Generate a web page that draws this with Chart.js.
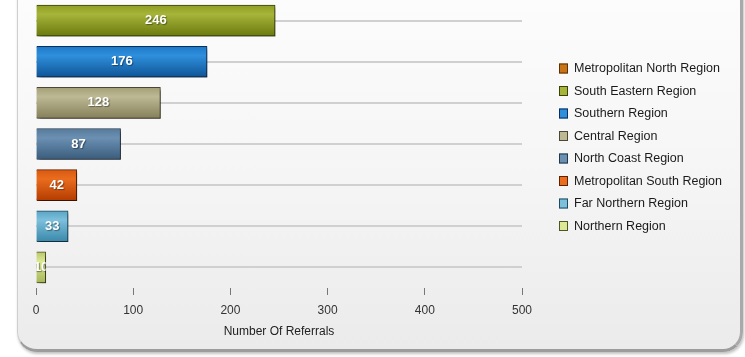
<!DOCTYPE html>
<html>
<head>
<meta charset="utf-8">
<script src="https://cdn.jsdelivr.net/npm/chart.js@4.4.1/dist/chart.umd.min.js"></script>
<style>
  html, body { margin:0; padding:0; background:#fff; overflow:hidden; }
  #wrap { position:relative; width:745px; height:357px; }
  #panel {
    position:absolute; left:17px; top:-30px; width:722px; height:378px;
    border:1px solid #cfcfcf; border-right:3px solid #a9a9a9; border-bottom:3px solid #9c9c9c;
    border-radius:0 0 20px 20px;
    background:linear-gradient(#fdfdfd 0%, #f6f6f6 50%, #ebebeb 100%);
    box-shadow:1px 2px 3px rgba(0,0,0,.25);
  }
  #c { position:absolute; left:0; top:0; }
</style>
</head>
<body>
<div id="wrap">
  <div id="panel"></div>
  <canvas id="c" width="745" height="357"></canvas>
</div>
<script>
// regions, top to bottom (first one sits above the visible part of the panel)
const regions = ['Metropolitan North Region','South Eastern Region','Southern Region','Central Region',
                 'North Coast Region','Metropolitan South Region','Far Northern Region','Northern Region'];
const referrals = [310, 246, 176, 128, 87, 42, 33, 10];
const xTicks = [0, 100, 200, 300, 400, 500];
// [top, middle, bottom, border]
const barColors = [
  ['#d88a30','#c87416','#9a5208','#5a3005'],
  ['#8f9e22','#a6b43a','#6a7a0e','#39420a'],
  ['#1c78c8','#2f8fdc','#0e5496','#0a2f5a'],
  ['#a39f78','#bdb994','#85805a','#4a4732'],
  ['#557a9c','#6b90b2','#3a5c7c','#223648'],
  ['#d85a12','#ea6c1e','#b43c00','#5e2200'],
  ['#5aa4c4','#7cc0dc','#3a88aa','#1e4a5e'],
  ['#b8c868','#dce894','#a6b658','#4e5628']
];

const FONT = '"Liberation Sans", Arial, sans-serif';

const barStyle = {
  id:'barStyle',
  beforeDatasetsDraw(chart){
    const {ctx} = chart;
    chart.getDatasetMeta(0).data.forEach((el, i) => {
      const h = el.height, top = el.y - h/2;
      const g = ctx.createLinearGradient(0, top, 0, top + h);
      g.addColorStop(0, barColors[i][0]);
      g.addColorStop(0.3, barColors[i][1]);
      g.addColorStop(1, barColors[i][2]);
      el.options.backgroundColor = g;
      el.options.borderColor = barColors[i][3];
    });
    ctx.save();
    ctx.shadowColor = 'rgba(0,0,0,0.45)';
    ctx.shadowOffsetX = 3; ctx.shadowOffsetY = 3; ctx.shadowBlur = 3;
  },
  afterDatasetsDraw(chart){
    const {ctx} = chart;
    ctx.restore();
    chart.getDatasetMeta(0).data.forEach((el, i) => {
      const h = el.height, left = Math.min(el.base, el.x), w = Math.abs(el.x - el.base);
      ctx.save();
      ctx.beginPath(); ctx.rect(left, el.y - h/2, w, h); ctx.clip();
      ctx.font = 'bold 13px ' + FONT;
      ctx.fillStyle = '#fff';
      ctx.textAlign = 'center'; ctx.textBaseline = 'middle';
      ctx.shadowColor = 'rgba(0,0,0,0.4)'; ctx.shadowOffsetX = 1; ctx.shadowOffsetY = 1; ctx.shadowBlur = 1;
      ctx.fillText(String(referrals[i]), left + w/2, el.y);
      ctx.restore();
    });
  }
};

const sideLegend = {
  id:'sideLegend',
  afterDraw(chart){
    const {ctx} = chart;
    ctx.save();
    regions.forEach((r, i) => {
      const y = 68.5 + i * 22.5;
      ctx.fillStyle = barColors[i][1];
      ctx.fillRect(559, y - 5, 9, 10);
      ctx.strokeStyle = barColors[i][3];
      ctx.lineWidth = 1;
      ctx.strokeRect(559.5, y - 4.5, 8, 9);
      ctx.fillStyle = '#1a1a1a';
      ctx.font = '12.5px ' + FONT;
      ctx.textBaseline = 'middle';
      ctx.fillText(r, 574, y + 0.5);
    });
    ctx.restore();
  }
};

new Chart(document.getElementById('c'), {
  type:'bar',
  data:{
    labels: regions,
    datasets:[{
      data: referrals,
      backgroundColor: barColors.map(c => c[1]),
      borderColor: barColors.map(c => c[3]),
      borderWidth: 1,
      barThickness: 31
    }]
  },
  options:{
    indexAxis:'y',
    responsive:false,
    animation:false,
    events:[],
    layout:{ padding:{ left:36, right:223, top:0, bottom:10 } },
    plugins:{ legend:{ display:false }, tooltip:{ enabled:false } },
    scales:{
      x:{
        min:0, max:500,
        afterBuildTicks: s => { s.ticks = xTicks.map(v => ({ value:v })); },
        afterFit: s => { s.height = 59; },
        border:{ display:false },
        grid:{ drawOnChartArea:false, drawTicks:true, tickLength:7, color:'#777', lineWidth:1 },
        ticks:{ color:'#333', padding:8, font:{ family:FONT, size:12 } },
        title:{ display:true, text:'Number Of Referrals', color:'#222', padding:{ top:0, bottom:8 }, font:{ family:FONT, size:12 } }
      },
      y:{
        min: regions[1],
        afterFit: s => { s.width = 0; },
        border:{ display:false },
        ticks:{ display:false },
        grid:{ offset:false, drawTicks:false, color:'#d0d0d0', lineWidth:2 }
      }
    }
  },
  plugins:[barStyle, sideLegend]
});
</script>
</body>
</html>
